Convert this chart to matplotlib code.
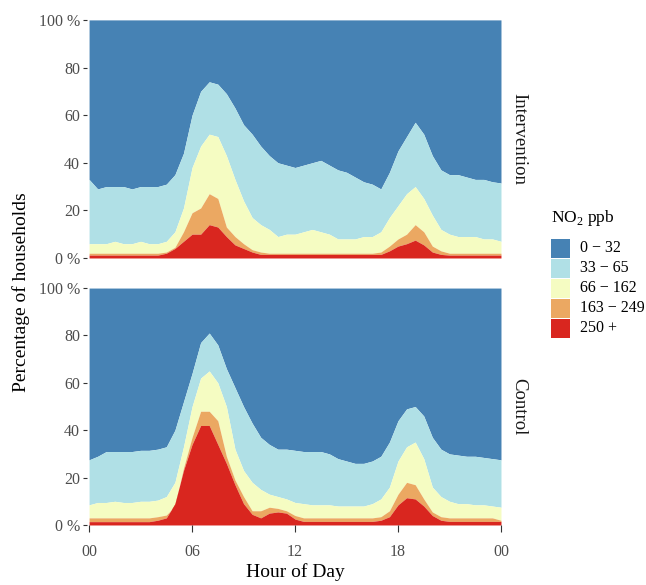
import numpy as np
import matplotlib
matplotlib.use("Agg")
import matplotlib.pyplot as plt
from matplotlib.patches import Rectangle

# half-hourly readings, 00:00 .. 24:00
hours = np.arange(0, 24.5, 0.5)

# cumulative share of households (%) at or above each band, Intervention
int_lb = [33, 29, 30, 30, 30, 29, 30, 30, 30, 31, 35, 44, 60, 70, 74, 73, 69, 63, 56, 52,
          47, 43, 40, 39, 38, 39, 40, 41, 39, 37, 36, 34, 32, 31, 29, 36, 45, 51, 57, 52,
          43, 37, 35, 35, 34, 33, 33, 32, 31.5]
int_ye = [6, 6, 6, 7, 6, 6, 7, 6, 6, 7, 11, 21, 38, 47, 52, 51, 43, 33, 24, 17,
          14, 12, 9, 10, 10, 11, 12, 11, 10, 8, 8, 8, 9, 9, 11, 17, 22, 27, 30, 25,
          18, 12, 10, 9, 9, 9, 8, 8, 7]
int_or = [2, 2, 2, 2, 2, 2, 2, 2, 2, 2.5, 4.5, 11, 19, 21, 27, 25, 13, 9, 6, 3.5,
          2.5, 2, 2, 2, 2, 2, 2, 2, 2, 2, 2, 2, 2, 2, 2.5, 5, 8, 10, 14, 11,
          5, 3, 2, 2, 2, 2, 2, 2, 2]
int_rd = [1.2, 1.2, 1.2, 1.2, 1.2, 1.2, 1.2, 1.2, 1.2, 2, 4, 7, 10, 10, 14, 13, 9, 5.5, 4, 2.5,
          1.5, 1.5, 1.5, 1.5, 1.5, 1.5, 1.5, 1.5, 1.5, 1.5, 1.5, 1.5, 1.5, 1.5, 1.5, 3, 5, 6, 7.5, 5.5,
          2.5, 1.5, 1.2, 1.2, 1.2, 1.2, 1.2, 1.2, 1.2]

# cumulative share of households (%), Control
ctl_lb = [27.5, 29, 31, 31, 31, 31, 31.5, 31.5, 32, 33, 40, 52, 64, 77, 81, 76, 66, 58, 50, 43,
          37, 34, 32, 32, 31.5, 31, 31, 31, 30, 28, 27, 26, 26, 27, 29, 35, 44, 49, 50, 46,
          37, 32, 30, 29.5, 29, 29, 28.5, 28, 27.5]
ctl_ye = [8.5, 9.5, 9.5, 10, 9.5, 9.5, 10, 10, 10.5, 12, 18, 33, 50, 62, 65, 60, 50, 32, 23, 18,
          15, 13, 12, 11, 9.5, 9, 8.5, 8.5, 8.5, 8, 8, 8, 8, 9, 11, 16, 27, 33, 35, 28,
          16, 12, 10, 9, 9, 8.5, 8.5, 8, 7.5]
ctl_or = [3, 3, 3, 3, 3, 3, 3, 3, 3.5, 4.2, 8, 24, 37, 48, 48, 44, 29, 19, 12, 6,
          6, 7.5, 7, 6, 4, 3, 3, 3, 3, 3, 3, 3, 3, 3, 3.5, 6, 13, 18, 17, 11,
          5.5, 3.5, 3, 3, 3, 3, 3, 3, 2]
ctl_rd = [1.4, 1.4, 1.4, 1.4, 1.4, 1.4, 1.4, 1.4, 2, 3, 9, 23, 34, 42, 42, 34, 26, 17, 9, 4.5,
          3, 5, 5.5, 5, 2.5, 1.5, 1.5, 1.5, 1.5, 1.5, 1.5, 1.5, 1.5, 1.5, 2, 3.5, 8.5, 11.5, 11, 8,
          4, 2, 1.5, 1.5, 1.5, 1.5, 1.5, 1.5, 1.5]

groups = ["Intervention", "Control"]
bands = ["0 \u2212 32", "33 \u2212 65", "66 \u2212 162", "163 \u2212 249", "250 +"]
colors = ["#4682B4", "#B0E0E6", "#F5FCC2", "#EBA862", "#D9261F"]
xtick_pos = [0, 6, 12, 18, 24]
xtick_lab = ["00", "06", "12", "18", "00"]
ytick_pos = [0, 20, 40, 60, 80, 100]
ytick_lab = ["0 %", "20", "40", "60", "80", "100 %"]

plt.rcParams["font.family"] = ["Liberation Serif", "DejaVu Serif"]
plt.rcParams["mathtext.fontset"] = "custom"
plt.rcParams["mathtext.rm"] = "Liberation Serif"

fig = plt.figure(figsize=(6.46, 5.85), dpi=100)
ax_top = fig.add_axes([0.1347, 0.559, 0.644, 0.407])
ax_bot = fig.add_axes([0.1347, 0.1026, 0.644, 0.405])

data = {
    "Intervention": [int_lb, int_ye, int_or, int_rd],
    "Control": [ctl_lb, ctl_ye, ctl_or, ctl_rd],
}

for ax, grp in zip([ax_top, ax_bot], groups):
    tops = [np.full(len(hours), 100.0)] + [np.array(v, float) for v in data[grp]] + [np.zeros(len(hours))]
    for i, col in enumerate(colors):
        ax.fill_between(hours, tops[i + 1], tops[i], color=col, linewidth=0)
    ax.set_xlim(-0.12, 24.12)
    ax.set_ylim(0, 100)
    ax.set_yticks(ytick_pos)
    ax.set_yticklabels(ytick_lab)
    ax.set_xticks(xtick_pos)
    for s in ax.spines.values():
        s.set_visible(False)
    ax.tick_params(axis="both", colors="#333333", labelcolor="#4D4D4D", labelsize=11.5,
                   length=3, width=0.8, pad=2)
    ax.text(1.018, 0.5, grp, transform=ax.transAxes, rotation=-90, ha="left", va="center",
            fontsize=13.5, color="#1A1A1A")

ax_top.tick_params(axis="x", bottom=False, labelbottom=False)
ax_bot.set_xticklabels(xtick_lab)
ax_bot.tick_params(axis="x", length=5, pad=9)
ax_bot.set_xlabel("Hour of Day", fontsize=14, color="black", labelpad=2)

fig.text(0.033, 0.5, "Percentage of households", rotation=90, ha="center", va="center",
         fontsize=14, color="black")

# legend
fig.text(551 / 646, 1 - 218 / 585, "NO$_2$ ppb", fontsize=12.5, ha="left", va="center")
for i, (lab, col) in enumerate(zip(bands, colors)):
    y0 = 239 + i * 20
    fig.patches.append(Rectangle((551 / 646, 1 - (y0 + 19) / 585), 19 / 646, 19 / 585,
                                 transform=fig.transFigure, facecolor=col, edgecolor="none"))
    fig.text(580 / 646, 1 - (y0 + 9.5) / 585, lab, fontsize=11.5, ha="left", va="center")

fig.savefig("out.png", dpi=100)
